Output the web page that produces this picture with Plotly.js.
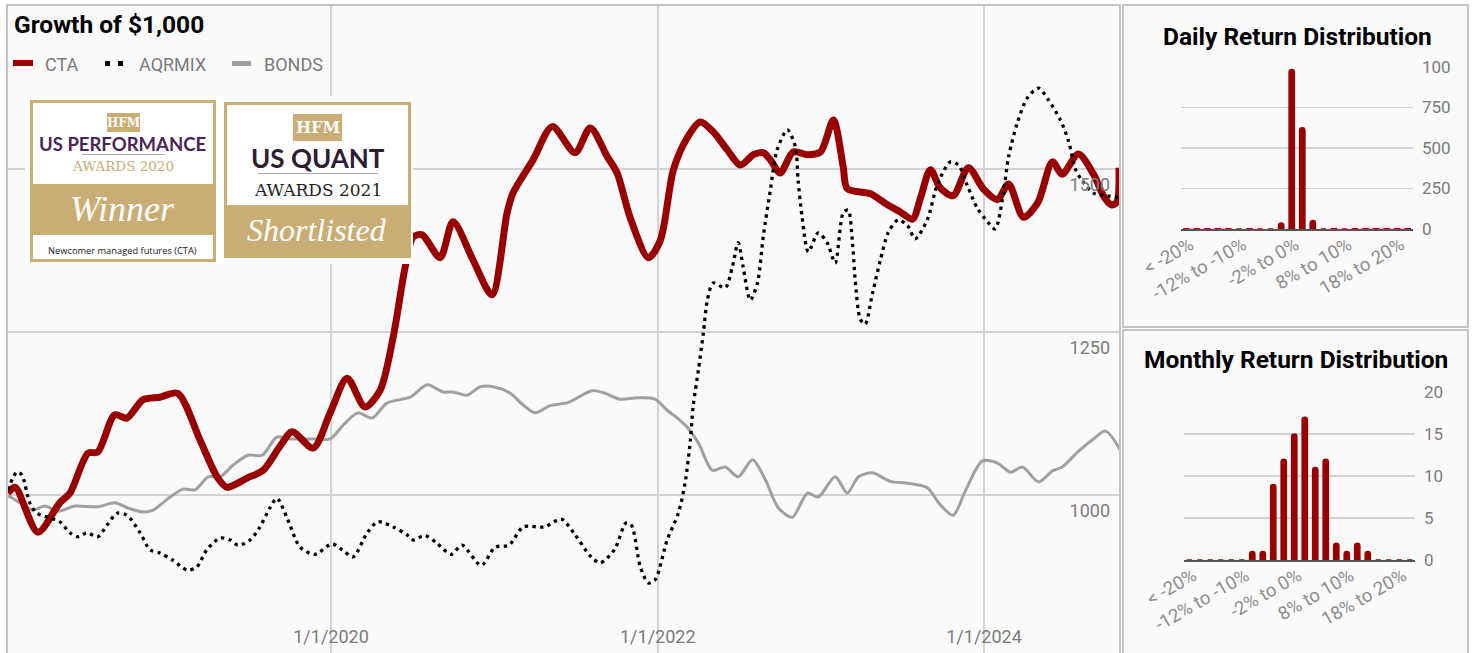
<!DOCTYPE html>
<html>
<head>
<meta charset="utf-8">
<script src="https://cdn.plot.ly/plotly-3.0.1.min.js"></script>
<style>
html,body{margin:0;padding:0;background:#ffffff;}
#chart{width:1473px;height:653px;}
</style>
</head>
<body>
<div id="chart"></div>
<script>
// ---------------- DATA ----------------
const ctaDates = ["2018-01-08","2018-01-24","2018-03-16","2018-05-04","2018-05-27","2018-07-06","2018-07-28","2018-09-04","2018-10-01","2018-11-06","2018-12-14","2019-01-23","2019-03-14","2019-04-21","2019-05-13","2019-06-27","2019-08-02","2019-09-09","2019-10-06","2019-11-22","2019-12-30","2020-02-06","2020-03-17","2020-04-20","2020-05-19","2020-06-15","2020-07-03","2020-07-23","2020-09-01","2020-09-30","2020-11-14","2020-12-26","2021-01-29","2021-02-11","2021-03-28","2021-05-10","2021-06-30","2021-08-03","2021-09-10","2021-10-02","2021-10-31","2021-12-11","2022-01-07","2022-02-05","2022-03-08","2022-04-06","2022-05-05","2022-06-06","2022-07-05","2022-08-03","2022-08-25","2022-09-10","2022-10-02","2022-10-31","2022-12-02","2022-12-31","2023-01-29","2023-02-20","2023-03-01","2023-04-22","2023-05-30","2023-06-28","2023-07-25","2023-08-12","2023-09-03","2023-09-25","2023-10-24","2023-11-27","2023-12-31","2024-01-31","2024-02-25","2024-03-29","2024-04-30","2024-06-02","2024-06-24","2024-07-30","2024-09-02","2024-09-24","2024-10-12","2024-10-24","2024-10-29"];
const ctaValues = [1003,1012,943,988,1003,1064,1066,1123,1118,1146,1150,1156,1084,1028,1012,1026,1038,1075,1097,1072,1126,1179,1135,1161,1242,1350,1396,1399,1364,1419,1360,1307,1433,1463,1514,1565,1525,1563,1519,1494,1426,1364,1391,1499,1548,1572,1557,1529,1506,1522,1525,1514,1494,1526,1522,1526,1575,1503,1470,1462,1445,1434,1423,1456,1499,1471,1459,1502,1469,1453,1477,1426,1448,1511,1492,1523,1492,1459,1445,1449,1502];

const aqrDates = ["2018-01-08","2018-01-28","2018-02-08","2018-02-26","2018-03-14","2018-04-12","2018-05-04","2018-05-27","2018-06-14","2018-07-04","2018-07-28","2018-08-18","2018-09-09","2018-10-01","2018-10-30","2018-11-22","2018-12-14","2019-01-12","2019-02-13","2019-03-07","2019-03-29","2019-04-28","2019-05-20","2019-06-07","2019-07-04","2019-07-26","2019-08-17","2019-09-02","2019-09-24","2019-10-24","2019-11-26","2020-01-03","2020-01-26","2020-02-19","2020-03-22","2020-04-15","2020-05-19","2020-06-19","2020-07-03","2020-07-29","2020-08-25","2020-09-26","2020-10-20","2020-12-02","2021-01-02","2021-02-02","2021-03-06","2021-04-22","2021-05-30","2021-06-30","2021-08-05","2021-08-25","2021-09-26","2021-10-22","2021-11-03","2021-11-23","2021-12-11","2021-12-26","2022-01-22","2022-02-16","2022-03-03","2022-03-15","2022-03-21","2022-04-02","2022-04-13","2022-04-22","2022-05-05","2022-06-01","2022-06-17","2022-06-30","2022-07-11","2022-07-27","2022-08-12","2022-08-25","2022-09-10","2022-09-25","2022-10-18","2022-11-05","2022-11-11","2022-11-20","2022-12-04","2022-12-26","2023-01-15","2023-02-02","2023-02-20","2023-03-03","2023-03-12","2023-03-19","2023-03-30","2023-04-10","2023-04-26","2023-05-14","2023-06-01","2023-06-23","2023-07-14","2023-07-31","2023-08-27","2023-09-19","2023-10-18","2023-11-05","2023-11-25","2023-12-17","2024-01-09","2024-01-26","2024-02-13","2024-02-25","2024-03-16","2024-04-07","2024-05-02","2024-05-24","2024-06-20","2024-07-08","2024-07-24","2024-08-10","2024-09-02","2024-10-03","2024-10-28"];
const aqrValues = [1008,1035,1031,988,972,965,959,942,936,942,936,954,972,969,943,916,911,900,885,890,916,934,931,923,931,951,980,995,966,920,909,925,916,905,942,959,951,939,931,938,926,909,923,892,920,923,951,951,963,939,905,896,916,957,954,890,865,870,931,972,1018,1084,1135,1192,1248,1299,1325,1318,1350,1387,1350,1299,1325,1396,1468,1529,1560,1534,1483,1426,1373,1402,1387,1356,1433,1437,1393,1328,1270,1262,1308,1360,1403,1422,1413,1393,1422,1477,1511,1506,1474,1440,1419,1408,1462,1519,1572,1609,1624,1606,1575,1543,1499,1480,1463,1459,1456];

const bondDates = ["2018-01-06","2018-02-04","2018-03-03","2018-04-01","2018-04-30","2018-06-07","2018-07-28","2018-09-04","2018-10-04","2018-11-06","2018-11-29","2019-01-06","2019-02-04","2019-03-03","2019-04-01","2019-04-28","2019-05-27","2019-06-29","2019-07-31","2019-09-02","2019-10-01","2019-11-22","2019-12-30","2020-01-28","2020-03-01","2020-04-02","2020-05-05","2020-06-26","2020-08-03","2020-09-08","2020-09-30","2020-10-31","2020-11-30","2020-12-29","2021-02-05","2021-03-06","2021-04-02","2021-05-05","2021-06-15","2021-08-07","2021-09-05","2021-10-09","2021-11-16","2021-12-26","2022-01-22","2022-02-14","2022-03-08","2022-04-02","2022-05-03","2022-06-01","2022-06-30","2022-08-01","2022-08-30","2022-09-28","2022-10-29","2022-12-02","2022-12-26","2023-02-02","2023-03-01","2023-03-26","2023-04-26","2023-06-05","2023-07-14","2023-08-27","2023-09-25","2023-10-24","2023-11-20","2023-12-28","2024-01-31","2024-02-29","2024-03-27","2024-05-02","2024-06-02","2024-06-24","2024-07-30","2024-09-02","2024-09-29","2024-11-01"];
const bondValues = [1000,988,977,983,975,983,982,988,980,974,977,997,1009,1008,1028,1028,1046,1061,1061,1089,1086,1086,1086,1107,1126,1118,1141,1150,1169,1158,1158,1153,1166,1166,1156,1138,1126,1137,1142,1160,1156,1147,1149,1147,1130,1118,1104,1080,1038,1043,1028,1054,1023,980,966,1003,997,1028,1003,1028,1034,1021,1018,1011,985,969,1006,1052,1049,1035,1043,1020,1037,1043,1067,1086,1098,1069];

const seriesNames = ["CTA","AQRMIX","BONDS"];

const returnBins = ["< -20%","-20% to -18%","-18% to -16%","-16% to -14%","-14% to -12%","-12% to -10%","-10% to -8%","-8% to -6%","-6% to -4%","-4% to -2%","-2% to 0%","0% to 2%","2% to 4%","4% to 6%","6% to 8%","8% to 10%","10% to 12%","12% to 14%","14% to 16%","16% to 18%","18% to 20%","> 20%"];
const dailyCounts   = [1,1,1,1,1,0,1,0,0,37,985,625,52,0,1,0,1,1,1,1,1,1];
const monthlyCounts = [0,0,0,0,0,0,1,1,9,12,15,17,11,12,2,1,2,1,0,0,0,0];
const binTickLabels = ["< -20%","-12% to -10%","-2% to 0%","8% to 10%","18% to 20%"];

const growthTickDates = ["2020-01-01","2022-01-01","2024-01-01"];
const growthTickText  = ["1/1/2020","1/1/2022","1/1/2024"];
const growthTickVals  = [1000,1250,1500];
const dailyTickVals   = [0,250,500,750,1000];
const dailyTickText   = ["0","250","500","750","100"];
const monthlyTickVals = [0,5,10,15,20];

// ---------------- STYLE / LAYOUT ----------------
const W = 1473, H = 653;
const PX = x => x / W;
const PY = y => 1 - y / H;
const RED = "#990000", GOLD = "#c9ad74", GRID = "#d2d2d2", TXT = "#7b7b7b";

const traces = [
  {x: bondDates, y: bondValues, name: seriesNames[2], type: "scatter", mode: "lines",
   line: {color: "#a0a0a0", width: 3, shape: "spline", smoothing: 0.8}, xaxis: "x", yaxis: "y", hoverinfo: "skip"},
  {x: ctaDates, y: ctaValues, name: seriesNames[0], type: "scatter", mode: "lines",
   line: {color: RED, width: 7, shape: "spline", smoothing: 0.8}, xaxis: "x", yaxis: "y", hoverinfo: "skip"},
  {x: aqrDates, y: aqrValues, name: seriesNames[1], type: "scatter", mode: "lines",
   line: {color: "#000000", width: 3.3, dash: "3.3px,4.3px", shape: "spline", smoothing: 0.8}, xaxis: "x", yaxis: "y", hoverinfo: "skip"},
  {x: returnBins, y: dailyCounts, type: "bar", xaxis: "x2", yaxis: "y2", width: 0.5,
   marker: {color: RED, cornerradius: 3, line: {color: RED, width: 1.5}}, hoverinfo: "skip"},
  {x: returnBins, y: monthlyCounts, type: "bar", xaxis: "x3", yaxis: "y3", width: 0.5,
   marker: {color: RED, cornerradius: 3, line: {color: RED, width: 1.5}}, hoverinfo: "skip"}
];

const tickFont = {family: "Roboto, sans-serif", size: 18, color: TXT};
const binFont = {family: "Roboto, sans-serif", size: 18.5, color: "#8e8e8e"};

const shapes = [];
function rect(x0, y0, x1, y1, fill, line, lw, layer) {
  shapes.push({type: "rect", xref: "paper", yref: "paper", x0: PX(x0), x1: PX(x1), y0: PY(y1), y1: PY(y0),
    fillcolor: fill || "rgba(0,0,0,0)", line: {color: line || "rgba(0,0,0,0)", width: lw || 0}, layer: layer || "above"});
}
function hline(x0, x1, y, color, lw) {
  shapes.push({type: "line", xref: "paper", yref: "paper", x0: PX(x0), x1: PX(x1), y0: PY(y), y1: PY(y),
    line: {color: color, width: lw}, layer: "above"});
}
// panel backgrounds
rect(7, 5, 1120, 660, "#fafafa", null, 0, "below");
rect(1123, 5, 1468, 327, "#fafafa", null, 0, "below");
rect(1123, 330, 1468, 660, "#fafafa", null, 0, "below");
// panel frames
rect(7, 5, 1120, 660, null, "#c3c3c3", 2, "above");
rect(1123, 5, 1468, 327, null, "#c3c3c3", 2, "above");
rect(1123, 330, 1468, 660, null, "#c3c3c3", 2, "above");
// legend swatches
rect(13, 60, 33, 66, RED, null, 0, "above");
rect(105, 61, 110, 66, "#000", null, 0, "above");
rect(118, 61, 123, 66, "#000", null, 0, "above");
rect(232, 61, 251, 66, "#9e9e9e", null, 0, "above");
// award badges
rect(25, 96, 413, 264, "#ffffff", null, 0, "above");
rect(30, 100, 216, 262, GOLD, null, 0, "above");
rect(33, 103, 213, 184, "#ffffff", null, 0, "above");
rect(33, 235, 213, 259, "#ffffff", null, 0, "above");
rect(107, 113, 140, 132, GOLD, null, 0, "above");
hline(82, 165, 154.5, "#a8a8a8", 1);
rect(224, 102, 411, 258, GOLD, null, 0, "above");
rect(227, 105, 408, 205, "#ffffff", null, 0, "above");
rect(293, 114, 342, 141, GOLD, null, 0, "above");
hline(258, 378, 173.5, "#a8a8a8", 1);

const annotations = [];
function txt(text, x, y, font, xanchor) {
  annotations.push({text: text, xref: "paper", yref: "paper", x: PX(x), y: PY(y), xanchor: xanchor || "center",
    yanchor: "middle", showarrow: false, font: font});
}
txt("<b>Growth of $1,000</b>", 12, 25, {family: "Roboto, sans-serif", size: 24.5, color: "#000"}, "left");
txt(seriesNames[0], 43, 64, {family: "Roboto, sans-serif", size: 18, color: TXT}, "left");
txt(seriesNames[1], 137, 64, {family: "Roboto, sans-serif", size: 18, color: TXT}, "left");
txt(seriesNames[2], 262, 64, {family: "Roboto, sans-serif", size: 18, color: TXT}, "left");
txt("<b>Daily Return Distribution</b>", 1297, 36, {family: "Roboto, sans-serif", size: 24.5, color: "#000"});
txt("<b>Monthly Return Distribution</b>", 1296, 359, {family: "Roboto, sans-serif", size: 24.5, color: "#000"});
// badge texts
txt("<b>HFM</b>", 123.5, 123, {family: "DejaVu Serif, serif", size: 12, color: "#ffffff"});
txt("<b>US PERFORMANCE</b>", 123, 144, {family: "Lato, sans-serif", size: 18.5, color: "#4a2558"});
txt("AWARDS 2020", 123, 165.5, {family: "DejaVu Serif, serif", size: 13.5, color: GOLD});
txt("<i>Winner</i>", 122, 209, {family: "Liberation Serif, serif", size: 36, color: "#ffffff"});
txt("Newcomer managed futures (CTA)", 123, 250, {family: "Open Sans, sans-serif", size: 9.3, color: "#222"});
txt("<b>HFM</b>", 317.5, 128, {family: "DejaVu Serif, serif", size: 16, color: "#ffffff"});
txt("<b>US QUANT</b>", 318, 158, {family: "Lato, sans-serif", size: 26, color: "#2e1c34"});
txt("AWARDS 2021", 318, 190, {family: "DejaVu Serif, serif", size: 17, color: "#1e1e1e"});
txt("<i>Shortlisted</i>", 317, 230, {family: "Liberation Serif, serif", size: 32, color: "#ffffff"});

const layout = {
  width: W, height: H,
  margin: {l: 0, r: 0, t: 0, b: 0, pad: 0},
  paper_bgcolor: "#ffffff", plot_bgcolor: "rgba(0,0,0,0)",
  showlegend: false,
  font: {family: "Roboto, sans-serif"},
  xaxis: {domain: [PX(7), PX(1119)], type: "date", range: ["2018-01-06", "2024-10-29"],
    tickvals: growthTickDates, ticktext: growthTickText, ticklabelposition: "inside",
    ticklabelstandoff: 3, tickfont: tickFont, showgrid: true, gridcolor: GRID, gridwidth: 1.5,
    zeroline: false, showline: false, ticks: "", anchor: "y", fixedrange: true},
  yaxis: {domain: [0, PY(6)], range: [757.7, 1750], side: "right", tickvals: growthTickVals,
    ticklabelposition: "inside", ticklabelshift: 16, ticklabelstandoff: 6, tickfont: tickFont,
    showgrid: true, gridcolor: GRID, gridwidth: 1.5, zeroline: false, showline: false, ticks: "",
    anchor: "x", fixedrange: true},
  xaxis2: {domain: [PX(1181), PX(1413)], type: "category", categoryarray: returnBins, categoryorder: "array",
    range: [-0.5, 21.5], tickvals: binTickLabels, tickangle: -30, tickfont: binFont,
    ticklabelstandoff: -4, ticklabelshift: 4,
    showgrid: false, showline: true, linecolor: "#555555", linewidth: 2, ticks: "", anchor: "y2", fixedrange: true},
  yaxis2: {domain: [PY(229), PY(67)], range: [0, 1000], side: "right", tickvals: dailyTickVals, ticktext: dailyTickText,
    tickfont: {family: "Roboto, sans-serif", size: 17, color: TXT}, ticklabelstandoff: 8,
    showgrid: true, gridcolor: GRID, gridwidth: 1.5, zeroline: false, showline: false, ticks: "", anchor: "x2", fixedrange: true},
  xaxis3: {domain: [PX(1184), PX(1415)], type: "category", categoryarray: returnBins, categoryorder: "array",
    range: [-0.5, 21.5], tickvals: binTickLabels, tickangle: -30, tickfont: binFont,
    ticklabelstandoff: -4, ticklabelshift: 4,
    showgrid: false, showline: true, linecolor: "#555555", linewidth: 2, ticks: "", anchor: "y3", fixedrange: true},
  yaxis3: {domain: [PY(560), PY(392)], range: [0, 20], side: "right", tickvals: monthlyTickVals,
    tickfont: {family: "Roboto, sans-serif", size: 17, color: TXT}, ticklabelstandoff: 8,
    showgrid: true, gridcolor: GRID, gridwidth: 1.5, zeroline: false, showline: false, ticks: "", anchor: "x3", fixedrange: true},
  shapes: shapes,
  annotations: annotations
};

Plotly.newPlot("chart", traces, layout, {staticPlot: true, displayModeBar: false});
</script>
</body>
</html>
